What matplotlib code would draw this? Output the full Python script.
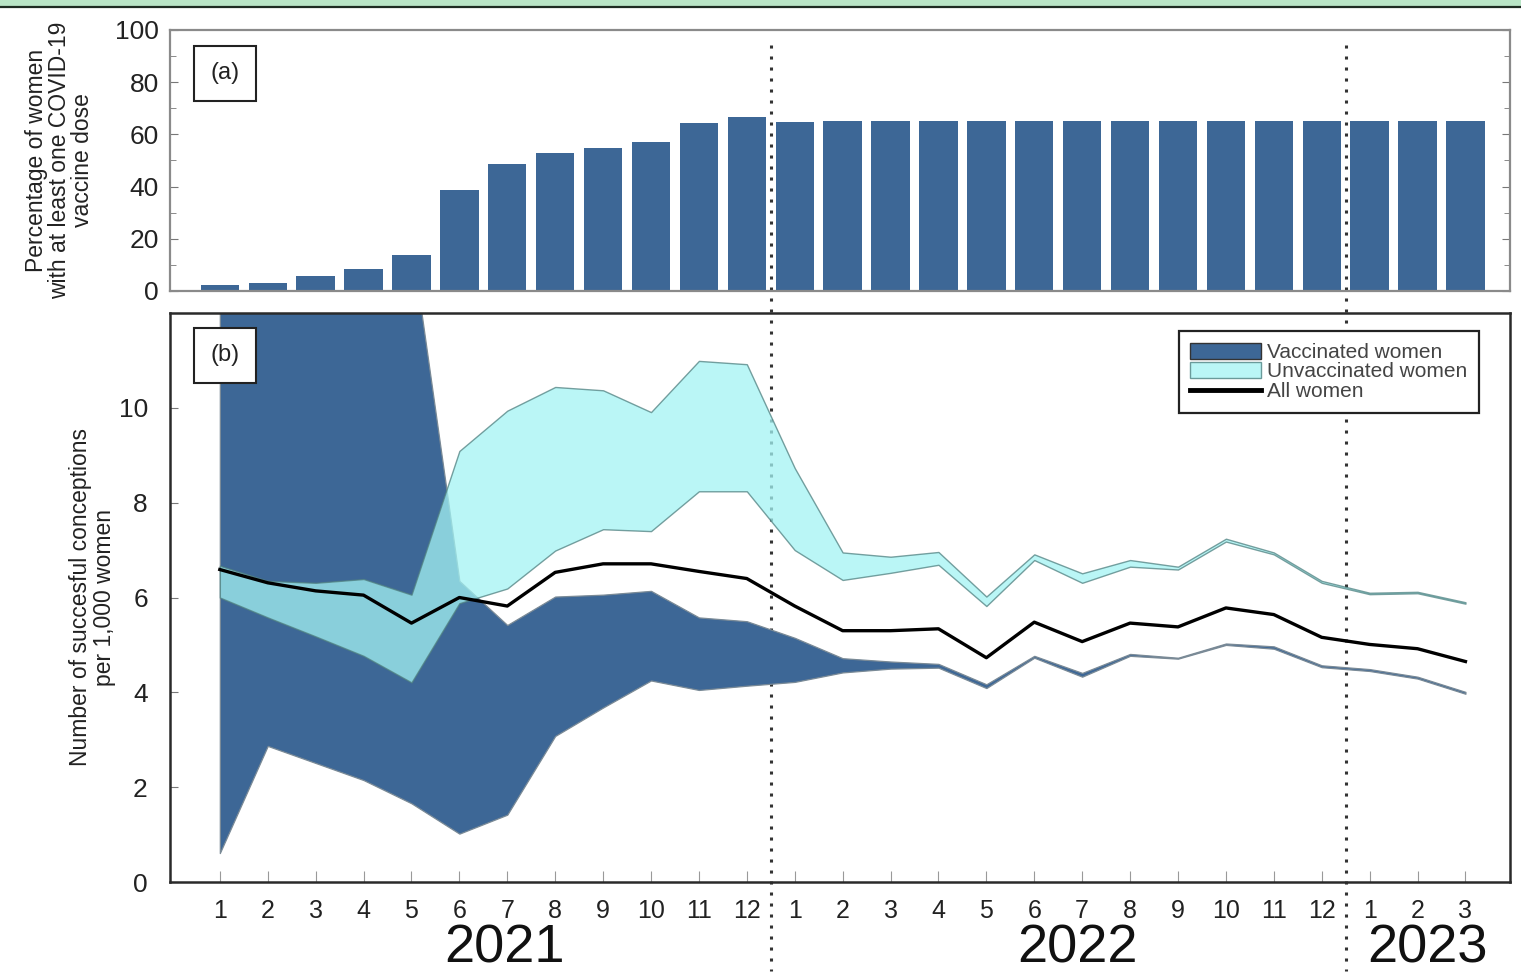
import matplotlib.pyplot as plt
import matplotlib.transforms as mtransforms
from matplotlib.lines import Line2D
from matplotlib.patches import Patch, Rectangle

plt.rcParams['font.family'] = ['Liberation Sans', 'DejaVu Sans']

# month index 1..27 = Jan 2021 .. Mar 2023
x = list(range(1, 28))
month_labels = [str(m) for m in range(1, 13)] * 2 + ['1', '2', '3']
years = ['2021', '2022', '2023']
year_pos = [6.95, 18.9, 26.2]
year_breaks = [12.5, 24.5]

# (a) share of women with at least one dose (%)
vacc_pct = [2.2, 2.9, 5.9, 8.6, 13.8, 38.8, 48.7, 52.9, 54.9, 57.1, 64.4, 66.6,
            64.6, 65.2, 65.2, 65.2, 65.2, 65.2, 65.2, 65.2, 65.2, 65.2, 65.2, 65.2,
            65.2, 65.2, 65.2]

# (b) conceptions per 1,000 women, confidence bands
# (vaccinated upper bound runs off the axis in early 2021)
vacc_hi = [17.0, 16.0, 15.0, 14.5, 13.5, 6.35, 5.42, 6.02, 6.06, 6.14, 5.58, 5.50,
           5.15, 4.72, 4.65, 4.60, 4.17, 4.77, 4.41, 4.81, 4.73, 5.03, 4.97, 4.57,
           4.49, 4.33, 4.01]
vacc_lo = [0.61, 2.87, 2.51, 2.15, 1.66, 1.02, 1.42, 3.08, 3.68, 4.25, 4.05, 4.14,
           4.22, 4.42, 4.50, 4.52, 4.09, 4.73, 4.33, 4.77, 4.71, 5.00, 4.92, 4.53,
           4.45, 4.29, 3.97]
unvacc_hi = [6.67, 6.35, 6.31, 6.39, 6.06, 9.09, 9.94, 10.44, 10.37, 9.91, 10.99, 10.92,
             8.73, 6.95, 6.86, 6.96, 6.02, 6.91, 6.51, 6.79, 6.65, 7.24, 6.95, 6.35,
             6.10, 6.12, 5.90]
unvacc_lo = [6.00, 5.58, 5.18, 4.77, 4.21, 5.88, 6.19, 6.99, 7.44, 7.40, 8.24, 8.24,
             7.00, 6.37, 6.52, 6.69, 5.82, 6.79, 6.31, 6.65, 6.59, 7.18, 6.91, 6.31,
             6.07, 6.09, 5.87]
all_women = [6.59, 6.31, 6.14, 6.05, 5.46, 6.00, 5.82, 6.53, 6.71, 6.71, 6.55, 6.40,
             5.82, 5.30, 5.30, 5.34, 4.73, 5.48, 5.07, 5.46, 5.38, 5.78, 5.64, 5.16,
             5.01, 4.92, 4.65]

DARK = '#3d6796'
CYAN = '#a3f3f3'
W, H = 1521, 973

fig = plt.figure(figsize=(W / 100, H / 100), dpi=100)
ax_a = fig.add_axes([170 / W, 1 - 291 / H, 1340 / W, 261 / H])
ax_b = fig.add_axes([170 / W, 1 - 882 / H, 1340 / W, 569 / H])
for ax in (ax_a, ax_b):
    ax.patch.set_visible(False)
    ax.set_xlim(-0.04, 27.93)

# green strip along the top edge
fig.add_artist(Rectangle((0, 1 - 6 / H), 1, 6 / H, transform=fig.transFigure,
                         facecolor='#b9e5c6', edgecolor='none'))
fig.add_artist(Line2D([0, 1], [1 - 6.5 / H] * 2, transform=fig.transFigure,
                      color='#1e2b22', lw=1.6))

# ---- panel (a)
ax_a.bar(x, vacc_pct, width=0.8, color=DARK, zorder=2)
ax_a.set_ylim(0, 100)
ax_a.set_yticks(range(0, 101, 20))
ax_a.set_yticks(range(10, 100, 20), minor=True)
ax_a.set_xticks([])
ax_a.tick_params(axis='y', which='both', direction='in', right=True,
                 labelsize=19, pad=8, color='#777', labelcolor='#222')
ax_a.tick_params(axis='y', which='major', length=6)
ax_a.tick_params(axis='y', which='minor', length=4)
for s in ax_a.spines.values():
    s.set_color('#8a8a8a')
    s.set_linewidth(1.6)
ax_a.set_ylabel('Percentage of women\nwith at least one COVID-19\nvaccine dose',
                fontsize=16.5, linespacing=0.98, color='#222')
ax_a.yaxis.set_label_coords(-0.057, 0.5)
ax_a.text(0.041, 0.835, '(a)', transform=ax_a.transAxes, fontsize=17,
          ha='center', va='center', color='#222',
          bbox=dict(boxstyle='square,pad=0.7', fc='white', ec='#222', lw=1.5))

# ---- panel (b)
vacc = ax_b.fill_between(x, vacc_lo, vacc_hi, facecolor=DARK, edgecolor='#7a8a96',
                         linewidth=0.9, zorder=2)
unvacc = ax_b.fill_between(x, unvacc_lo, unvacc_hi, facecolor=CYAN, edgecolor='#4f8080',
                           linewidth=1.0, alpha=0.75, zorder=3)
ax_b.plot(x, all_women, color='black', lw=2.4, zorder=4)
ax_b.set_ylim(0, 12)
ax_b.set_yticks(range(0, 11, 2))
ax_b.set_xticks(x)
ax_b.set_xticklabels(month_labels)
ax_b.tick_params(axis='y', direction='in', length=6, labelsize=19, pad=16,
                 color='#777', labelcolor='#222')
ax_b.tick_params(axis='x', direction='in', length=8, labelsize=18, pad=12,
                 color='#999', labelcolor='#222')
for s in ax_b.spines.values():
    s.set_color('#2a2a2a')
    s.set_linewidth(1.8)
ax_b.set_ylabel('Number of succesful conceptions\nper 1,000 women',
                fontsize=16.5, linespacing=1.05, color='#222')
ax_b.yaxis.set_label_coords(-0.040, 0.5)
ax_b.text(0.041, 0.926, '(b)', transform=ax_b.transAxes, fontsize=17,
          ha='center', va='center', color='#222', zorder=6,
          bbox=dict(boxstyle='square,pad=0.7', fc='white', ec='#222', lw=1.5))

handles = [Patch(facecolor=DARK, edgecolor='#333'),
           Patch(facecolor='#baf6f6', edgecolor='#6a9a9a'),
           Line2D([], [], color='black', lw=3.5)]
leg = ax_b.legend(handles, ['Vaccinated women', 'Unvaccinated women', 'All women'],
                  loc='upper right', bbox_to_anchor=(0.977, 0.968), fontsize=15,
                  handlelength=3.4, handleheight=0.8, labelspacing=0.02,
                  borderpad=0.55, handletextpad=0.3, borderaxespad=0,
                  fancybox=False, framealpha=1)
leg.get_frame().set_edgecolor('#222')
leg.get_frame().set_linewidth(1.6)
for t in leg.get_texts():
    t.set_color('#444')
leg.set_zorder(6)

# year captions under the month ticks
ytrans = mtransforms.blended_transform_factory(ax_b.transData, ax_b.transAxes)
for yr, p in zip(years, year_pos):
    ax_b.text(p, -0.116, yr, transform=ytrans, fontsize=39, ha='center',
              va='center', color='#111')

# dotted year separators through both panels
ftrans = mtransforms.blended_transform_factory(ax_b.transData, fig.transFigure)
for b in year_breaks:
    fig.add_artist(Line2D([b, b], [1 - 45 / H, 0.002], transform=ftrans,
                          color='#333', lw=2.2, linestyle=(0, (1, 2.6)), zorder=-1))

fig.savefig('out.png', dpi=100)
